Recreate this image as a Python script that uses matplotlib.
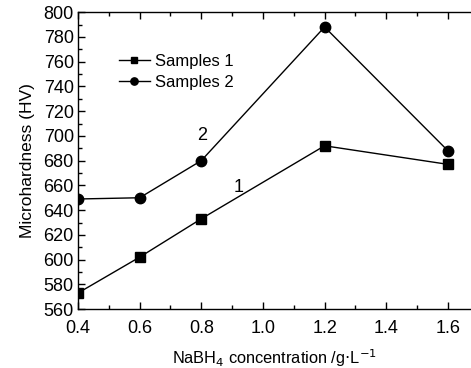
import matplotlib
matplotlib.use("Agg")
import matplotlib.pyplot as plt
from matplotlib.ticker import MultipleLocator

plt.rcParams['font.family'] = ['Liberation Sans', 'DejaVu Sans']

conc = [0.4, 0.6, 0.8, 1.2, 1.6]
samples1 = [573, 602, 633, 692, 677]
samples2 = [649, 650, 680, 788, 688]

fig = plt.figure(figsize=(4.71, 3.68), dpi=100)
ax = fig.add_axes([0.1656, 0.160, 0.8344, 0.807])

ax.plot(conc, samples1, '-s', color='black', lw=1, ms=7, label='Samples 1')
ax.plot(conc, samples2, '-o', color='black', lw=1, ms=7.5, label='Samples 2')

ax.set_xlim(0.4, 1.675)
ax.set_ylim(560, 800)
ax.xaxis.set_major_locator(MultipleLocator(0.2))
ax.xaxis.set_minor_locator(MultipleLocator(0.1))
ax.yaxis.set_major_locator(MultipleLocator(20))
ax.yaxis.set_minor_locator(MultipleLocator(10))
ax.xaxis.set_major_formatter(matplotlib.ticker.FormatStrFormatter('%.1f'))
ax.tick_params(which='both', direction='in', top=True, labelsize=13, width=1)
ax.tick_params(which='major', length=5)
ax.tick_params(which='minor', length=3)
ax.tick_params(axis='x', which='major', pad=8)
ax.tick_params(axis='y', which='major', pad=3)
ax.spines['right'].set_visible(False)
for s in ['left', 'bottom', 'top']:
    ax.spines[s].set_linewidth(1)

ax.set_xlabel(r'NaBH$_4$ concentration /g$\cdot$L$^{-1}$', fontsize=11.8, labelpad=7)
ax.set_ylabel('Microhardness (HV)', fontsize=12.5, labelpad=6)

ax.text(0.785, 697, '2', fontsize=13)
ax.text(0.905, 655, '1', fontsize=13)

ax.legend(loc='upper left', bbox_to_anchor=(0.065, 0.91), frameon=False, fontsize=12,
          handlelength=1.9, handletextpad=0.3, labelspacing=0.35, markerscale=0.7)

fig.savefig('out.png', dpi=100)
